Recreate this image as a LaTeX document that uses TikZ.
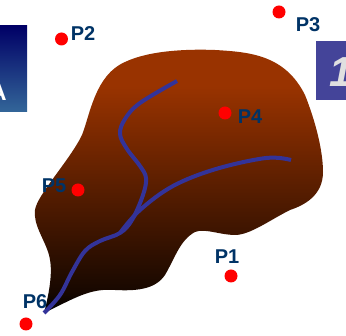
\documentclass[tikz,border=0pt]{standalone}
\usepackage{fontspec}
\setmainfont{Liberation Sans}
\usepackage{tikz}
\definecolor{basinriver}{HTML}{333399}
\definecolor{pointlabel}{HTML}{003366}
\definecolor{boxnavy}{HTML}{000066}
\definecolor{boxsteel}{HTML}{336699}
\definecolor{boxviolet}{HTML}{444499}
\pgfdeclareverticalshading{basinshade}{100bp}{
  rgb(0bp)=(0,0,0);
  rgb(25bp)=(0,0,0);
  rgb(29bp)=(0.09,0.03,0);
  rgb(68bp)=(0.6,0.2,0);
  rgb(100bp)=(0.6,0.2,0)
}
\tikzset{
      gaugepoint/.style={
        circle,
        fill=red,
        inner sep=0pt,
        minimum size=13pt
      },
      pointname/.style={
        text=pointlabel,
        font=\bfseries\fontsize{20}{24}\selectfont,
        inner sep=0pt
      },
      riverline/.style={
        draw=basinriver,
        line width=4pt,
        line cap=butt,
        line join=round
      }
    }

\begin{document}
\begin{tikzpicture}[x=1pt,y=-1pt]
    \useasboundingbox (0,0) rectangle (346,336);
    % cropped boxes at the edges
    \shade[top color=boxnavy, bottom color=boxsteel] (0,26) rectangle (27,112);
    \fill[boxviolet] (316,41) rectangle (346,100);
    \begin{scope}
      \clip (0,26) rectangle (27,112);
      \node[text=white, font=\bfseries\fontsize{24}{28}\selectfont, anchor=base east, inner sep=0pt] (boxa) at (7,101) {A};
    \end{scope}
    \begin{scope}
      \clip (316,41) rectangle (346,100);
      \node[text=black!12, font=\bfseries\itshape\fontsize{42}{48}\selectfont, anchor=base west, inner sep=0pt] (boxb) at (329,87) {1};
    \end{scope}
    % basin
    \shade[shading=basinshade] (44,313)
      .. controls (50,290) and (53,270) .. (49,255)
      .. controls (45,240) and (33,225) .. (35,210)
      .. controls (37,195) and (70,160) .. (82,135)
      .. controls (90,115) and (95,75) .. (125,62)
      .. controls (150,50) and (190,49) .. (215,50)
      .. controls (250,52) and (285,55) .. (305,95)
      .. controls (315,120) and (323,150) .. (323,172)
      .. controls (323,195) and (305,205) .. (290,210)
      .. controls (270,220) and (250,235) .. (235,235)
      .. controls (220,235) and (205,228) .. (195,232)
      .. controls (180,240) and (175,258) .. (165,275)
      .. controls (155,290) and (135,291) .. (115,290)
      .. controls (90,288) and (75,298) .. (44,313) -- cycle;
    % rivers
    \draw[riverline] plot[smooth, tension=0.6] coordinates {
      (44,313) (60,295) (72,272) (85,251) (100,241) (120,233)
      (132,220) (143,195) (146,178) (140,166) (127,149) (120,134) (125,119) (140,103) (177,81)
    };
    \draw[riverline] plot[smooth, tension=0.6] coordinates {
      (120,233) (140,210) (173,186) (216,169) (266,158) (291,160)
    };
    % points
    \node[gaugepoint] (p1) at (231,276) {};
    \node[gaugepoint] (p2) at (61.5,39) {};
    \node[gaugepoint] (p3) at (279,12) {};
    \node[gaugepoint] (p4) at (225,113) {};
    \node[gaugepoint] (p5) at (78,190) {};
    \node[gaugepoint] (p6) at (26,324) {};
    \node[pointname] (l1) at (227,257) {P1};
    \node[pointname] (l2) at (83,34) {P2};
    \node[pointname] (l3) at (308,25) {P3};
    \node[pointname] (l4) at (250,117) {P4};
    \node[pointname] (l5) at (54,186) {P5};
    \node[pointname] (l6) at (35,302) {P6};
    \end{tikzpicture}
\end{document}
